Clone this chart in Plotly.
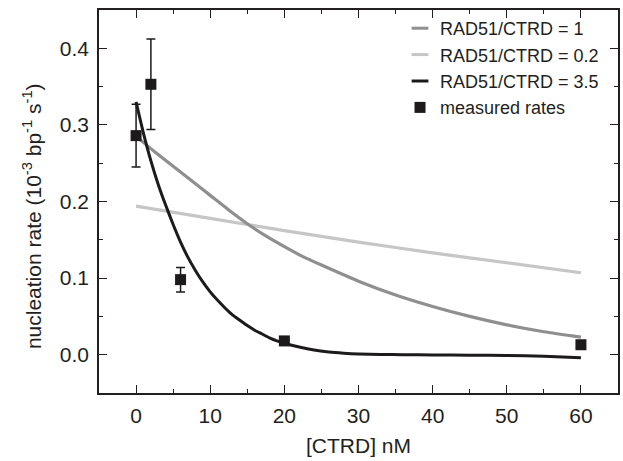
import plotly.graph_objects as go

# ---- data ----
ratio1_x = [0, 2.5, 5, 7.5, 10, 12.5, 15, 17.5, 20, 22.5, 25, 30, 35, 40, 45, 50, 55, 60]
ratio1_y = [0.285, 0.265, 0.246, 0.227, 0.208, 0.189, 0.171, 0.155, 0.141, 0.128, 0.117,
            0.096, 0.078, 0.063, 0.050, 0.039, 0.030, 0.023]

ratio02_x = [0, 10, 20, 30, 40, 50, 60]
ratio02_y = [0.194, 0.178, 0.162, 0.147, 0.133, 0.120, 0.107]

ratio35_x = [0, 1, 2, 3, 4, 5, 6, 7, 8, 9, 10, 11, 12, 13, 14, 15, 16, 17, 18, 19, 20,
             22, 24, 26, 28, 30, 33, 36, 40, 45, 50, 55, 60]
ratio35_y = [0.330, 0.289, 0.253, 0.222, 0.195, 0.170, 0.147, 0.127, 0.110, 0.095, 0.082,
             0.071, 0.061, 0.052, 0.045, 0.038, 0.032, 0.027, 0.022, 0.018, 0.015,
             0.010, 0.006, 0.0035, 0.002, 0.001, 0.0003, 0.0, -0.0003, -0.0006, -0.001, -0.002, -0.004]

meas_x = [0, 2, 6, 20, 60]
meas_y = [0.286, 0.353, 0.098, 0.018, 0.013]
meas_err = [0.041, 0.059, 0.016, 0.0, 0.0]

names = ["RAD51/CTRD = 1", "RAD51/CTRD = 0.2", "RAD51/CTRD = 3.5", "measured rates"]
x_title = "[CTRD] nM"
y_title = "nucleation rate (10<sup>-3</sup> bp<sup>-1</sup> s<sup>-1</sup>)"

C_GRAY = "#8f8f8f"
C_LIGHT = "#c6c6c6"
C_BLACK = "#1c1a1b"
C_TEXT = "#231f20"
FONT = "Liberation Sans, Arial, sans-serif"

fig = go.Figure()

fig.add_trace(go.Scatter(x=ratio02_x, y=ratio02_y, mode="lines",
                         line=dict(color=C_LIGHT, width=3.2, shape="spline", smoothing=0.6),
                         showlegend=False, hoverinfo="skip"))
fig.add_trace(go.Scatter(x=ratio1_x, y=ratio1_y, mode="lines",
                         line=dict(color=C_GRAY, width=3.2, shape="spline", smoothing=0.6),
                         showlegend=False, hoverinfo="skip"))
fig.add_trace(go.Scatter(x=ratio35_x, y=ratio35_y, mode="lines",
                         line=dict(color=C_BLACK, width=3, shape="spline", smoothing=0.6),
                         showlegend=False, hoverinfo="skip"))
fig.add_trace(go.Scatter(x=meas_x, y=meas_y, mode="markers",
                         marker=dict(symbol="square", size=11, color=C_BLACK),
                         error_y=dict(type="data", array=meas_err, visible=True, color=C_BLACK,
                                      thickness=1.5, width=4.5),
                         showlegend=False))

# legend entries (short line samples like the reference)
for nm, col, rank in [(names[0], C_GRAY, 1), (names[1], C_LIGHT, 2), (names[2], C_BLACK, 3)]:
    fig.add_trace(go.Scatter(x=[None], y=[None], mode="markers", name=nm, legendrank=rank,
                             marker=dict(symbol="line-ew", size=12, color=col, line=dict(color=col, width=3))))
fig.add_trace(go.Scatter(x=[None], y=[None], mode="markers", name=names[3], legendrank=4,
                         marker=dict(symbol="square", size=11, color=C_BLACK)))

axis_common = dict(
    showline=True, linecolor=C_TEXT, linewidth=1.6, mirror="allticks",
    ticks="inside", ticklen=8, tickwidth=1.3, tickcolor=C_TEXT,
    showgrid=False, zeroline=False,
    tickfont=dict(family=FONT, size=21, color=C_TEXT),
)

fig.update_layout(
    width=623, height=461,
    margin=dict(l=99, r=3, t=10, b=68),
    paper_bgcolor="white", plot_bgcolor="white",
    font=dict(family=FONT, color=C_TEXT),
    xaxis=dict(range=[-5, 65], tick0=0, dtick=10,
               minor=dict(dtick=5, ticklen=4, ticks="inside", tickcolor=C_TEXT, tickwidth=1.3),
               title=dict(text=x_title, font=dict(family=FONT, size=21, color=C_TEXT), standoff=12),
               ticklabelstandoff=3,
               **axis_common),
    yaxis=dict(range=[-0.05, 0.45], tick0=0, dtick=0.1, tickformat=".1f",
               minor=dict(dtick=0.05, ticklen=4, ticks="inside", tickcolor=C_TEXT, tickwidth=1.3),
               ticklabelstandoff=4,
               **axis_common),
    legend=dict(x=0.58, y=1.0, xanchor="left", yanchor="top", bgcolor="rgba(0,0,0,0)",
                font=dict(family=FONT, size=18, color=C_TEXT), tracegroupgap=0),
    showlegend=True,
    annotations=[dict(text=y_title, textangle=-90, xref="paper", yref="paper",
                      x=-0.129, y=0.462, xanchor="center", yanchor="middle", showarrow=False,
                      font=dict(family=FONT, size=21, color=C_TEXT))],
)

fig.write_html("out.html")
